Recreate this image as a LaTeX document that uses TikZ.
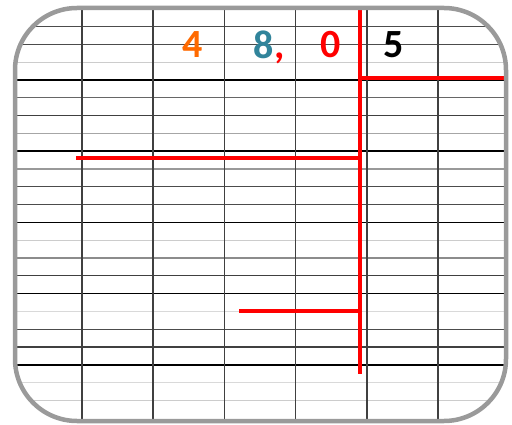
\documentclass[tikz,border=0pt]{standalone}
\usepackage{fontspec}
\setmainfont{Carlito}
\definecolor{framegray}{HTML}{9A9A9A}
\definecolor{digitorange}{HTML}{FF6A00}
\definecolor{digitteal}{HTML}{31849B}
\definecolor{divred}{HTML}{FF0000}

\begin{document}
\begin{tikzpicture}[
  x=1pt, y=-1pt,
  rowbold/.style={black, line width=1.7pt},
  rowthin/.style={black!#1, line width=1.1pt},
  colline/.style={black!75, line width=1.6pt},
  divline/.style={divred, line width=4.5pt},
  digit/.style={font=\fontsize{40}{40}\selectfont\bfseries, inner sep=0pt, text=#1},
]
\useasboundingbox (0,0) rectangle (512,425);

% squared paper, clipped to the frame
\begin{scope}
  \clip[rounded corners=62pt] (15,8) rectangle (506,421);
  \fill[white] (0,0) rectangle (512,425);
  \foreach \k/\s in {1/70,2/70,3/20,5/60,6/75,7/35,9/40,10/70,11/70,
                     13/20,14/45,15/75,17/15,18/70,19/75,21/15,22/20}
    \draw[rowthin=\s] (0,8.8+17.8*\k) -- (512,8.8+17.8*\k);
  \foreach \k in {1,...,5}
    \draw[rowbold] (0,8.8+71.2*\k) -- (512,8.8+71.2*\k);
  \foreach \j in {1,...,6}
    \draw[colline] (10.8+71.2*\j,0) -- (10.8+71.2*\j,425);
\end{scope}

% digits of the division
\node[digit=digitorange] (four) at (193,45) {4};
\node[digit=digitteal] (eight) at (264,45) {8};
\node[digit=divred, anchor=base west] (comma) at (eight.base east) {,};
\node[digit=divred] (zero) at (331,45) {0};
\node[digit=black] (five) at (394,45) {5};

% division bars
\draw[divline] (360,10) -- (360,374);
\draw[divline] (360,78) -- (506,78);
\draw[divline] (76,158) -- (360,158);
\draw[divline] (239,311) -- (360,311);

% frame
\draw[framegray, line width=4.5pt, rounded corners=62pt] (15,8) rectangle (506,421);
\end{tikzpicture}
\end{document}
